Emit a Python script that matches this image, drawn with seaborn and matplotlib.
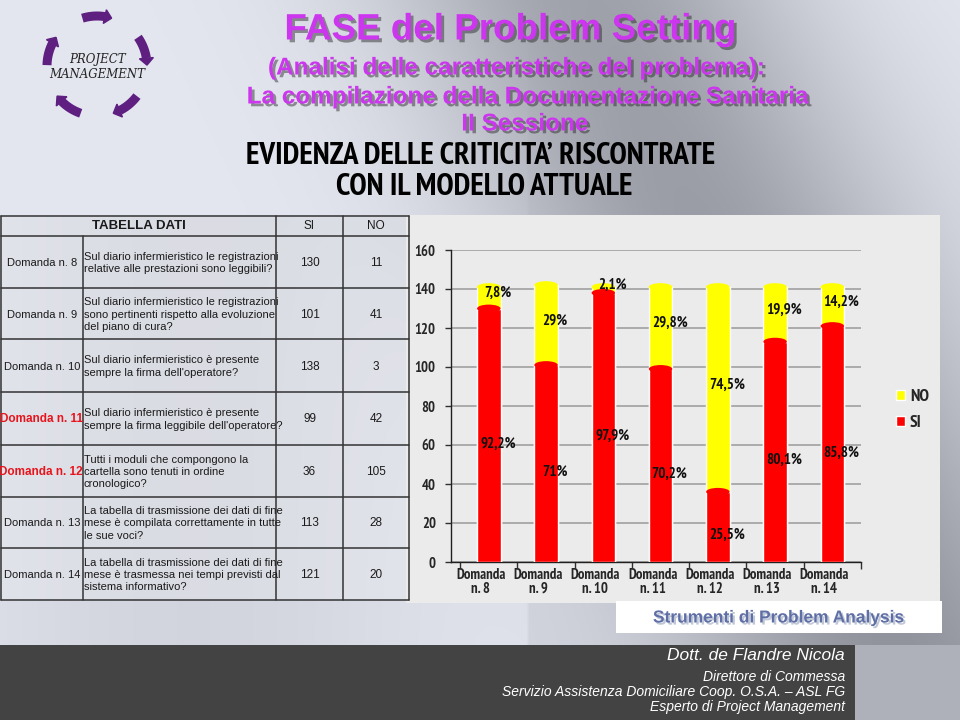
import numpy as np
import pandas as pd
import matplotlib
matplotlib.use("Agg")
import matplotlib.pyplot as plt
import seaborn as sns
from matplotlib import font_manager as fm
from matplotlib.patches import Rectangle, Ellipse, Polygon
from matplotlib.transforms import ScaledTranslation
import matplotlib.patheffects as pe

# ---------------- data ----------------
domande = ["Domanda n. 8", "Domanda n. 9", "Domanda n. 10", "Domanda n. 11",
           "Domanda n. 12", "Domanda n. 13", "Domanda n. 14"]
tick_labels = ["Domanda\nn. 8", "Domanda\nn. 9", "Domanda\nn. 10", "Domanda\nn. 11",
               "Domanda\nn. 12", "Domanda\nn. 13", "Domanda\nn. 14"]
domande_testo = [
    "Sul diario infermieristico le registrazioni\nrelative alle prestazioni sono leggibili?",
    "Sul diario infermieristico le registrazioni\nsono pertinenti rispetto alla evoluzione\ndel piano di cura?",
    "Sul diario infermieristico è presente\nsempre la firma dell'operatore?",
    "Sul diario infermieristico è presente\nsempre la firma leggibile dell'operatore?",
    "Tutti i moduli che compongono la\ncartella sono tenuti in ordine\ncronologico?",
    "La tabella di trasmissione dei dati di fine\nmese è compilata correttamente in tutte\nle sue voci?",
    "La tabella di trasmissione dei dati di fine\nmese è trasmessa nei tempi previsti dal\nsistema informativo?",
]
si = [130, 101, 138, 99, 36, 113, 121]
no = [11, 41, 3, 42, 105, 28, 20]
pct_si = ["92,2%", "71%", "97,9%", "70,2%", "25,5%", "80,1%", "85,8%"]
pct_no = ["7,8%", "29%", "2,1%", "29,8%", "74,5%", "19,9%", "14,2%"]
evidenziate = [False, False, False, True, True, False, False]
y_ticks = [0, 20, 40, 60, 80, 100, 120, 140, 160]

# ---------------- fonts ----------------
sns.set_theme(style="white")
plt.rcParams["font.family"] = ["Liberation Sans", "DejaVu Sans"]


def _w(f):
    w = f.weight
    if isinstance(w, str):
        w = fm.weight_dict.get(w, 400)
    return w


def find_narrow():
    cond = ("condensed", "semi-condensed", "extra-condensed")
    good = [f for f in fm.fontManager.ttflist
            if ("Narrow" in f.name or "Condensed" in f.name or f.stretch in cond)
            and 600 <= _w(f) <= 800 and f.style == "normal"]
    for f in good:
        if "Narrow" in f.name:
            return {"family": f.name, "stretch": f.stretch}
    if good:
        f = good[0]
        return {"family": f.name, "stretch": f.stretch}
    return {"family": "Liberation Sans"}


NARROW = find_narrow()

RED = "#ff0000"
YEL = "#ffff00"
MAG = "#cc36ee"

fig = plt.figure(figsize=(9.6, 7.2), dpi=100)
renderer = fig.canvas.get_renderer()


def fit_size(text, target_px, base=10.0):
    t = fig.text(0, 0, text, fontproperties=fm.FontProperties(weight="bold", size=base, **NARROW))
    w = t.get_window_extent(renderer).width
    t.remove()
    return base * target_px / w


S_TICK = fit_size("Domanda", 50)
S_YT = fit_size("160", 21)
S_PCT = fit_size("92,2%", 36)
S_LEG = fit_size("NO", 19)
S_EVI = fit_size("EVIDENZA DELLE CRITICITA’ RISCONTRATE", 470)

# ---------------- background ----------------
bg = fig.add_axes([0, 0, 1, 1])
H, W = 240, 320
X, Y = np.meshgrid(np.linspace(0, 1, W), np.linspace(0, 1, H))
val = 0.92 - 0.27 * np.exp(-((X - 0.62 - 0.35 * Y) / 0.22) ** 2) - 0.06 * Y * (X > 0.55)
val = val - 0.07 * np.exp(-((X - 0.2) / 0.25) ** 2) * (Y > 0.3)
rgb = np.dstack([val - 0.025, val - 0.015, val + 0.02]).clip(0, 1)
bg.imshow(rgb, extent=(0, 960, 720, 0), aspect="auto", interpolation="bilinear")
bg.set_xlim(0, 960)
bg.set_ylim(720, 0)
bg.axis("off")

shadow = [pe.withSimplePatchShadow(offset=(2, -2), shadow_rgbFace="#202020", alpha=0.45)]

# titles
bg.text(510, 30, "FASE del Problem Setting", color=MAG, fontsize=26.5, fontweight="bold",
        ha="center", va="center", path_effects=shadow)
bg.text(517, 68, "(Analisi delle caratteristiche del problema):", color=MAG, fontsize=17.5,
        fontweight="bold", ha="center", va="center", path_effects=shadow)
bg.text(528, 97, "La compilazione della Documentazione Sanitaria", color=MAG, fontsize=17.5,
        fontweight="bold", ha="center", va="center", path_effects=shadow)
bg.text(525, 124, "II Sessione", color=MAG, fontsize=17.5, fontweight="bold",
        ha="center", va="center", path_effects=shadow)
bg.text(481, 156, "EVIDENZA DELLE CRITICITA’ RISCONTRATE", color="black", fontsize=S_EVI,
        fontweight="bold", ha="center", va="center", **NARROW)
bg.text(484, 187, "CON IL MODELLO ATTUALE", color="black", fontsize=S_EVI,
        fontweight="bold", ha="center", va="center", **NARROW)

# logo (five curved arrows around the label)
cx, cy, r = 97, 66, 50
PURP = "#5e1f80"
for a in [90, 18, -54, -126, -198]:
    angs = np.radians(np.linspace(a + 17, a - 9, 20))
    xs = cx + r * np.cos(angs)
    ys = cy - r * np.sin(angs)
    bg.plot(xs, ys, color=PURP, lw=6.5, solid_capstyle="butt")
    ae = np.radians(a - 17)
    tip = np.array([cx + r * np.cos(ae), cy - r * np.sin(ae)])
    base = np.array([xs[-1], ys[-1]])
    d = tip - base
    n = np.array([-d[1], d[0]]) / np.hypot(*d) * 7
    bg.add_patch(Polygon([tip, base + n, base - n], closed=True, fc=PURP, ec=PURP))
bg.text(cx, cy - 6, "PROJECT", fontsize=8.5, style="italic", family="DejaVu Serif",
        ha="center", va="center", color="#222222")
bg.text(cx, cy + 8, "MANAGEMENT", fontsize=8.5, style="italic", family="DejaVu Serif",
        ha="center", va="center", color="#222222")

# ---------------- table ----------------
row_y = [216, 236, 288, 339, 392, 445, 497, 548, 600]
col_x = [1, 83, 276, 343, 409]
bg.add_patch(Rectangle((col_x[0], row_y[0]), col_x[-1] - col_x[0], row_y[-1] - row_y[0],
                       fc="white", alpha=0.18, ec="none"))
for yv in row_y:
    bg.plot([col_x[0], col_x[-1]], [yv, yv], color="#333333", lw=1.1)
for i, xv in enumerate(col_x):
    y0 = row_y[0] if i in (0, 2, 3, 4) else row_y[1]
    bg.plot([xv, xv], [y0, row_y[-1]], color="#333333", lw=1.1)
hy = (row_y[0] + row_y[1]) / 2
bg.text((col_x[0] + col_x[2]) / 2, hy, "TABELLA DATI", fontsize=9.5, fontweight="bold",
        ha="center", va="center", color="#1a1a1a")
bg.text((col_x[2] + col_x[3]) / 2, hy, "SI", fontsize=8.5, ha="center", va="center", color="#1a1a1a")
bg.text((col_x[3] + col_x[4]) / 2, hy, "NO", fontsize=8.5, ha="center", va="center", color="#1a1a1a")
for i in range(len(domande)):
    yc = (row_y[i + 1] + row_y[i + 2]) / 2 + 1
    if evidenziate[i]:
        bg.text(col_x[1], yc, domande[i], fontsize=8.5, fontweight="bold", color="#e8141c",
                ha="right", va="center")
    else:
        bg.text((col_x[0] + col_x[1]) / 2, yc, domande[i], fontsize=8, color="#1a1a1a",
                ha="center", va="center")
    bg.text(col_x[1] + 1, yc, domande_testo[i], fontsize=8, color="#1a1a1a", ha="left",
            va="center", linespacing=1.3)
    bg.text((col_x[2] + col_x[3]) / 2, yc, str(si[i]), fontsize=8.5, color="#1a1a1a",
            ha="center", va="center")
    bg.text((col_x[3] + col_x[4]) / 2, yc, str(no[i]), fontsize=8.5, color="#1a1a1a",
            ha="center", va="center")

# chart panel
bg.add_patch(Rectangle((406, 215), 534, 388, fc="#ebebeb", ec="none"))

# bottom band and boxes
bg.add_patch(Rectangle((855, 645), 105, 75, fc="#aeb1ba", ec="none"))
bg.add_patch(Rectangle((0, 645), 855, 75, fc="#434343", ec="none"))
bg.add_patch(Rectangle((616, 601), 326, 32, fc="white", ec="none"))
bg.text(779, 618, "Strumenti di Problem Analysis", fontsize=12.5, fontweight="bold",
        color="#5f6fa6", ha="center", va="center",
        path_effects=[pe.withSimplePatchShadow(offset=(1.5, -1.5), shadow_rgbFace="#8090b0", alpha=0.5)])
bg.text(845, 656, "Dott. de Flandre Nicola", fontsize=12.5, style="italic", color="white",
        ha="right", va="center")
bg.text(845, 677, "Direttore di Commessa", fontsize=10, style="italic", color="white",
        ha="right", va="center")
bg.text(845, 692, "Servizio Assistenza Domiciliare Coop. O.S.A. – ASL FG", fontsize=10,
        style="italic", color="white", ha="right", va="center")
bg.text(845, 707, "Esperto di Project Management", fontsize=10, style="italic",
        color="white", ha="right", va="center")

# ---------------- chart ----------------
df = pd.DataFrame({"Domanda": tick_labels, "SI": si, "NO": no})
df["Totale"] = df["SI"] + df["NO"]

ax = fig.add_axes([451 / 960, 1 - 562 / 720, 410 / 960, 312 / 720])
ax.set_facecolor("none")
sns.barplot(data=df, x="Domanda", y="Totale", color=YEL, width=0.41, label="NO",
            saturation=1, ax=ax, zorder=3)
sns.barplot(data=df, x="Domanda", y="SI", color=RED, width=0.41, label="SI",
            saturation=1, ax=ax, zorder=3)
ax.set_xlim(-0.66, 6.5)
ax.set_ylim(0, 160)
ax.set_yticks(y_ticks)
ax.set_xlabel("")
ax.set_ylabel("")
ax.yaxis.grid(True, color="#a0a0a0", lw=1.2)
ax.set_axisbelow(True)
for s in ["top", "right"]:
    ax.spines[s].set_visible(False)
for s in ["left", "bottom"]:
    ax.spines[s].set_color("#202020")
    ax.spines[s].set_linewidth(1)
ax.tick_params(axis="y", direction="out", length=4, width=1, color="#303030", pad=7,
               left=True)
ax.tick_params(axis="x", which="major", length=0, pad=4)
ax.set_xticks(np.arange(-0.5, 7, 1), minor=True)
ax.tick_params(axis="x", which="minor", direction="out", length=5, width=1, color="#303030",
               bottom=True)
for lab in ax.get_yticklabels():
    lab.set_fontproperties(fm.FontProperties(weight="bold", size=S_YT, **NARROW))
shift = ScaledTranslation(-8 / 100, 0, fig.dpi_scale_trans)
for lab in ax.get_xticklabels():
    lab.set_fontproperties(fm.FontProperties(weight="bold", size=S_TICK, **NARROW))
    lab.set_linespacing(1.0)
    lab.set_transform(lab.get_transform() + shift)

# cylinder caps derived from the drawn bars
cap_h = 4.0
for p in list(ax.patches):
    x0, w, h = p.get_x(), p.get_width(), p.get_height()
    col = p.get_facecolor()
    ax.add_patch(Ellipse((x0 + w / 2, h), w, cap_h, fc=col, ec="none", zorder=3.2))
    ax.add_patch(Ellipse((x0 + w / 2, 0), w, cap_h, fc=col, ec="none", zorder=2.9))

for i in range(len(si)):
    ax.annotate(pct_si[i], (i, si[i] / 2), xytext=(6.5, -6), textcoords="offset points",
                ha="center", va="center", fontsize=S_PCT, fontweight="bold",
                color="#111111", zorder=5, **NARROW)
    ax.annotate(pct_no[i], (i, si[i] + no[i] / 2), xytext=(6.5, 3.5), textcoords="offset points",
                ha="center", va="center", fontsize=S_PCT, fontweight="bold",
                color="#111111", zorder=5, **NARROW)

h, l = ax.get_legend_handles_labels()
ax.legend(h, l, loc="center left", bbox_to_anchor=(896 / 960, 1 - 410 / 720),
          bbox_transform=fig.transFigure, frameon=False, handlelength=0.5, handleheight=0.5,
          handletextpad=0.3, labelspacing=0.6, borderaxespad=0, borderpad=0,
          prop=fm.FontProperties(weight="bold", size=S_LEG, **NARROW))

fig.savefig("out.png", dpi=100)
